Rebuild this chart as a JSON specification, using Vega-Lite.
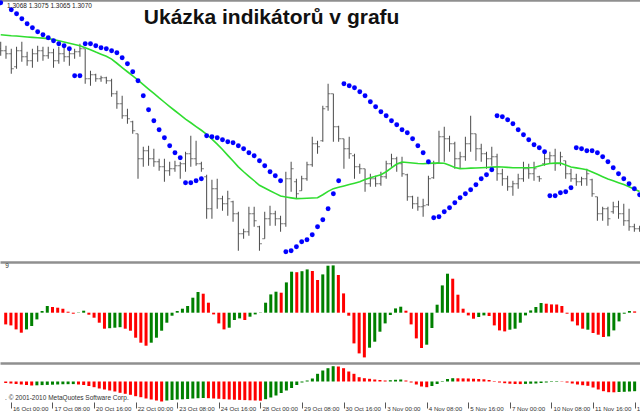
{
"$schema": "https://vega.github.io/schema/vega-lite/v6.json",
"padding": 0,
"spacing": 0,
"bounds": "flush",
"background": "white",
"config": {"view": {"stroke": null}, "font": "Liberation Sans"},
"datasets": {"bars": [
{"k":-1,"o":1.335,"h":1.3385,"l":1.3315,"c":1.334,"sar":1.358,"ma":1.342,"osma":-0.00117,"osmaDir":"down","hist":-0.00015,"histDir":"down"},
{"k":0,"o":1.334,"h":1.3365,"l":1.33,"c":1.3325,"sar":null,"ma":1.34175,"osma":-0.00127,"osmaDir":"down","hist":-0.0002,"histDir":"down"},
{"k":1,"o":1.3325,"h":1.335,"l":1.3225,"c":1.325,"sar":1.3545,"ma":1.3415,"osma":-0.00167,"osmaDir":"down","hist":-0.00025,"histDir":"down"},
{"k":2,"o":1.326,"h":1.336,"l":1.325,"c":1.334,"sar":1.3525,"ma":1.34135,"osma":-0.002,"osmaDir":"down","hist":-0.0003,"histDir":"down"},
{"k":3,"o":1.334,"h":1.3385,"l":1.3285,"c":1.331,"sar":1.35,"ma":1.3411,"osma":-0.00167,"osmaDir":"up","hist":-0.00035,"histDir":"down"},
{"k":4,"o":1.331,"h":1.3335,"l":1.3265,"c":1.329,"sar":1.3475,"ma":1.3409,"osma":-0.00133,"osmaDir":"up","hist":-0.0004,"histDir":"down"},
{"k":5,"o":1.329,"h":1.335,"l":1.3255,"c":1.3325,"sar":1.3455,"ma":1.3407,"osma":-0.00067,"osmaDir":"up","hist":-0.00038,"histDir":"up"},
{"k":6,"o":1.3325,"h":1.3365,"l":1.3285,"c":1.334,"sar":1.3435,"ma":1.3405,"osma":0.00017,"osmaDir":"up","hist":-0.00036,"histDir":"up"},
{"k":7,"o":1.334,"h":1.336,"l":1.329,"c":1.3315,"sar":1.342,"ma":1.3403,"osma":0.00067,"osmaDir":"up","hist":-0.00034,"histDir":"up"},
{"k":8,"o":1.3315,"h":1.336,"l":1.33,"c":1.333,"sar":1.3405,"ma":1.34005,"osma":0.00057,"osmaDir":"down","hist":-0.00032,"histDir":"up"},
{"k":9,"o":1.333,"h":1.335,"l":1.3255,"c":1.329,"sar":1.339,"ma":1.3396,"osma":0.0005,"osmaDir":"down","hist":-0.0003,"histDir":"up"},
{"k":10,"o":1.329,"h":1.336,"l":1.3275,"c":1.3325,"sar":1.3375,"ma":1.339,"osma":0.0004,"osmaDir":"down","hist":-0.00028,"histDir":"up"},
{"k":11,"o":1.3325,"h":1.3365,"l":1.3285,"c":1.331,"sar":1.3365,"ma":1.33835,"osma":0.0001,"osmaDir":"down","hist":-0.00027,"histDir":"up"},
{"k":12,"o":1.331,"h":1.335,"l":1.3265,"c":1.3325,"sar":1.335,"ma":1.33775,"osma":-0.0001,"osmaDir":"down","hist":-0.00026,"histDir":"up"},
{"k":13,"o":1.3325,"h":1.335,"l":1.33,"c":1.3335,"sar":1.3215,"ma":1.33715,"osma":-0.00003,"osmaDir":"up","hist":-0.0003,"histDir":"down"},
{"k":14,"o":1.3335,"h":1.3375,"l":1.331,"c":1.335,"sar":1.3215,"ma":1.3365,"osma":0.0002,"osmaDir":"up","hist":-0.00035,"histDir":"down"},
{"k":15,"o":1.335,"h":1.335,"l":1.3175,"c":1.32,"sar":1.3375,"ma":1.3355,"osma":-0.0002,"osmaDir":"down","hist":-0.00045,"histDir":"down"},
{"k":16,"o":1.32,"h":1.324,"l":1.3165,"c":1.322,"sar":1.3375,"ma":1.3345,"osma":-0.0005,"osmaDir":"down","hist":-0.00057,"histDir":"down"},
{"k":17,"o":1.322,"h":1.3225,"l":1.3185,"c":1.32,"sar":1.3365,"ma":1.33335,"osma":-0.001,"osmaDir":"down","hist":-0.0007,"histDir":"down"},
{"k":18,"o":1.32,"h":1.3215,"l":1.3185,"c":1.3205,"sar":1.3355,"ma":1.3323,"osma":-0.0016,"osmaDir":"down","hist":-0.0008,"histDir":"down"},
{"k":19,"o":1.3205,"h":1.321,"l":1.3175,"c":1.319,"sar":1.335,"ma":1.33125,"osma":-0.00155,"osmaDir":"up","hist":-0.0009,"histDir":"down"},
{"k":20,"o":1.319,"h":1.32,"l":1.311,"c":1.3125,"sar":1.334,"ma":1.32985,"osma":-0.0015,"osmaDir":"up","hist":-0.001,"histDir":"down"},
{"k":21,"o":1.3125,"h":1.314,"l":1.305,"c":1.3075,"sar":1.333,"ma":1.32775,"osma":-0.00145,"osmaDir":"up","hist":-0.00113,"histDir":"down"},
{"k":22,"o":1.3075,"h":1.3115,"l":1.3,"c":1.3015,"sar":1.3305,"ma":1.3256,"osma":-0.0016,"osmaDir":"down","hist":-0.00123,"histDir":"down"},
{"k":23,"o":1.3015,"h":1.305,"l":1.2975,"c":1.3,"sar":1.3275,"ma":1.3235,"osma":-0.0018,"osmaDir":"down","hist":-0.00133,"histDir":"down"},
{"k":24,"o":1.2985,"h":1.299,"l":1.2925,"c":1.294,"sar":1.3235,"ma":1.3214,"osma":-0.0025,"osmaDir":"down","hist":-0.00147,"histDir":"down"},
{"k":25,"o":1.2925,"h":1.2925,"l":1.27,"c":1.28,"sar":1.319,"ma":1.3193,"osma":-0.003,"osmaDir":"down","hist":-0.00157,"histDir":"down"},
{"k":26,"o":1.28,"h":1.286,"l":1.276,"c":1.284,"sar":1.3115,"ma":1.3171,"osma":-0.0033,"osmaDir":"down","hist":-0.0017,"histDir":"down"},
{"k":27,"o":1.284,"h":1.2865,"l":1.2765,"c":1.28,"sar":1.3045,"ma":1.31485,"osma":-0.003,"osmaDir":"up","hist":-0.0018,"histDir":"down"},
{"k":28,"o":1.28,"h":1.285,"l":1.276,"c":1.2785,"sar":1.299,"ma":1.31265,"osma":-0.0025,"osmaDir":"up","hist":-0.0019,"histDir":"down"},
{"k":29,"o":1.2785,"h":1.28,"l":1.274,"c":1.276,"sar":1.2945,"ma":1.3104,"osma":-0.0018,"osmaDir":"up","hist":-0.002,"histDir":"down"},
{"k":30,"o":1.276,"h":1.28,"l":1.2685,"c":1.274,"sar":1.2905,"ma":1.30825,"osma":-0.001,"osmaDir":"up","hist":-0.0019,"histDir":"up"},
{"k":31,"o":1.274,"h":1.2785,"l":1.2715,"c":1.275,"sar":1.2865,"ma":1.3061,"osma":-0.0003,"osmaDir":"up","hist":-0.00185,"histDir":"up"},
{"k":32,"o":1.275,"h":1.279,"l":1.2735,"c":1.2765,"sar":1.283,"ma":1.304,"osma":0.00017,"osmaDir":"up","hist":-0.0018,"histDir":"up"},
{"k":33,"o":1.2765,"h":1.2785,"l":1.27,"c":1.2775,"sar":1.2805,"ma":1.3019,"osma":0.0004,"osmaDir":"up","hist":-0.00178,"histDir":"up"},
{"k":34,"o":1.2775,"h":1.2835,"l":1.2735,"c":1.2825,"sar":1.268,"ma":1.2998,"osma":0.00067,"osmaDir":"up","hist":-0.00175,"histDir":"up"},
{"k":35,"o":1.2825,"h":1.2915,"l":1.276,"c":1.28,"sar":1.268,"ma":1.298,"osma":0.0015,"osmaDir":"up","hist":-0.0017,"histDir":"up"},
{"k":36,"o":1.28,"h":1.289,"l":1.2765,"c":1.2775,"sar":1.269,"ma":1.2961,"osma":0.00207,"osmaDir":"up","hist":-0.00167,"histDir":"up"},
{"k":37,"o":1.2775,"h":1.2785,"l":1.2735,"c":1.275,"sar":1.27,"ma":1.29425,"osma":0.0019,"osmaDir":"down","hist":-0.00165,"histDir":"up"},
{"k":38,"o":1.271,"h":1.272,"l":1.25,"c":1.255,"sar":1.2915,"ma":1.29225,"osma":0.001,"osmaDir":"down","hist":-0.00167,"histDir":"down"},
{"k":39,"o":1.255,"h":1.2695,"l":1.25,"c":1.265,"sar":1.291,"ma":1.2898,"osma":-0.00017,"osmaDir":"down","hist":-0.0017,"histDir":"down"},
{"k":40,"o":1.265,"h":1.27,"l":1.255,"c":1.26,"sar":1.2905,"ma":1.2873,"osma":-0.00107,"osmaDir":"down","hist":-0.00173,"histDir":"down"},
{"k":41,"o":1.26,"h":1.2615,"l":1.254,"c":1.2575,"sar":1.2895,"ma":1.28465,"osma":-0.00167,"osmaDir":"down","hist":-0.00177,"histDir":"down"},
{"k":42,"o":1.2575,"h":1.264,"l":1.2515,"c":1.26,"sar":1.2885,"ma":1.2817,"osma":-0.0015,"osmaDir":"up","hist":-0.0018,"histDir":"down"},
{"k":43,"o":1.2585,"h":1.259,"l":1.2485,"c":1.2525,"sar":1.288,"ma":1.27885,"osma":-0.00073,"osmaDir":"up","hist":-0.00182,"histDir":"down"},
{"k":44,"o":1.2525,"h":1.2535,"l":1.234,"c":1.2425,"sar":1.2865,"ma":1.27595,"osma":-0.00057,"osmaDir":"up","hist":-0.00184,"histDir":"down"},
{"k":45,"o":1.2425,"h":1.245,"l":1.24,"c":1.2435,"sar":1.285,"ma":1.2735,"osma":-0.00073,"osmaDir":"down","hist":-0.00186,"histDir":"down"},
{"k":46,"o":1.2435,"h":1.256,"l":1.2415,"c":1.2525,"sar":1.283,"ma":1.2712,"osma":-0.0004,"osmaDir":"up","hist":-0.00188,"histDir":"down"},
{"k":47,"o":1.2525,"h":1.256,"l":1.246,"c":1.249,"sar":1.2815,"ma":1.269,"osma":-0.00017,"osmaDir":"up","hist":-0.0019,"histDir":"down"},
{"k":48,"o":1.246,"h":1.2465,"l":1.234,"c":1.2375,"sar":1.279,"ma":1.26675,"osma":0.00003,"osmaDir":"up","hist":-0.00192,"histDir":"down"},
{"k":49,"o":1.24,"h":1.2535,"l":1.24,"c":1.25,"sar":1.2765,"ma":1.26535,"osma":0.001,"osmaDir":"up","hist":-0.00177,"histDir":"up"},
{"k":50,"o":1.25,"h":1.2565,"l":1.2465,"c":1.2525,"sar":1.2735,"ma":1.264,"osma":0.00183,"osmaDir":"up","hist":-0.0016,"histDir":"up"},
{"k":51,"o":1.2525,"h":1.254,"l":1.2465,"c":1.25,"sar":1.2715,"ma":1.2627,"osma":0.0021,"osmaDir":"up","hist":-0.0014,"histDir":"up"},
{"k":52,"o":1.25,"h":1.2515,"l":1.2435,"c":1.2475,"sar":1.269,"ma":1.2614,"osma":0.002,"osmaDir":"down","hist":-0.00115,"histDir":"up"},
{"k":53,"o":1.2475,"h":1.2735,"l":1.246,"c":1.27,"sar":1.2335,"ma":1.2609,"osma":0.00303,"osmaDir":"up","hist":-0.0009,"histDir":"up"},
{"k":54,"o":1.27,"h":1.2785,"l":1.2635,"c":1.275,"sar":1.234,"ma":1.26045,"osma":0.0041,"osmaDir":"up","hist":-0.00065,"histDir":"up"},
{"k":55,"o":1.2685,"h":1.27,"l":1.26,"c":1.2625,"sar":1.236,"ma":1.26005,"osma":0.00405,"osmaDir":"down","hist":-0.00035,"histDir":"up"},
{"k":56,"o":1.264,"h":1.2715,"l":1.264,"c":1.27,"sar":1.2385,"ma":1.2601,"osma":0.00415,"osmaDir":"up","hist":-0.0001,"histDir":"up"},
{"k":57,"o":1.27,"h":1.2785,"l":1.269,"c":1.277,"sar":1.2395,"ma":1.26025,"osma":0.00433,"osmaDir":"up","hist":0.0001,"histDir":"up"},
{"k":58,"o":1.277,"h":1.291,"l":1.276,"c":1.2875,"sar":1.242,"ma":1.26035,"osma":0.00417,"osmaDir":"down","hist":0.0003,"histDir":"up"},
{"k":59,"o":1.2875,"h":1.289,"l":1.2825,"c":1.286,"sar":1.246,"ma":1.2605,"osma":0.00327,"osmaDir":"down","hist":0.00077,"histDir":"up"},
{"k":60,"o":1.289,"h":1.3065,"l":1.2885,"c":1.305,"sar":1.2495,"ma":1.262,"osma":0.00383,"osmaDir":"up","hist":0.0011,"histDir":"up"},
{"k":61,"o":1.306,"h":1.3175,"l":1.304,"c":1.3125,"sar":1.255,"ma":1.2637,"osma":0.0047,"osmaDir":"up","hist":0.00133,"histDir":"up"},
{"k":62,"o":1.3125,"h":1.3125,"l":1.2885,"c":1.296,"sar":1.2625,"ma":1.26505,"osma":0.00473,"osmaDir":"up","hist":0.00153,"histDir":"up"},
{"k":63,"o":1.296,"h":1.2965,"l":1.2885,"c":1.29,"sar":1.269,"ma":1.26575,"osma":0.00377,"osmaDir":"down","hist":0.0015,"histDir":"down"},
{"k":64,"o":1.29,"h":1.29,"l":1.275,"c":1.285,"sar":1.3175,"ma":1.2664,"osma":0.00193,"osmaDir":"down","hist":0.00133,"histDir":"down"},
{"k":65,"o":1.285,"h":1.291,"l":1.28,"c":1.2825,"sar":1.3165,"ma":1.2671,"osma":-0.0003,"osmaDir":"down","hist":0.001,"histDir":"down"},
{"k":66,"o":1.2815,"h":1.2825,"l":1.27,"c":1.276,"sar":1.3155,"ma":1.2678,"osma":-0.00307,"osmaDir":"down","hist":0.00077,"histDir":"down"},
{"k":67,"o":1.276,"h":1.2775,"l":1.2725,"c":1.275,"sar":1.3135,"ma":1.2685,"osma":-0.00407,"osmaDir":"down","hist":0.00043,"histDir":"down"},
{"k":68,"o":1.275,"h":1.275,"l":1.2635,"c":1.2675,"sar":1.3115,"ma":1.2696,"osma":-0.00447,"osmaDir":"down","hist":0.00033,"histDir":"down"},
{"k":69,"o":1.2675,"h":1.2725,"l":1.266,"c":1.27,"sar":1.3085,"ma":1.27055,"osma":-0.0035,"osmaDir":"up","hist":0.00027,"histDir":"down"},
{"k":70,"o":1.27,"h":1.2715,"l":1.266,"c":1.2675,"sar":1.306,"ma":1.27125,"osma":-0.0029,"osmaDir":"up","hist":0.0002,"histDir":"down"},
{"k":71,"o":1.2675,"h":1.2735,"l":1.2665,"c":1.271,"sar":1.3035,"ma":1.272,"osma":-0.0019,"osmaDir":"up","hist":0.00015,"histDir":"down"},
{"k":72,"o":1.271,"h":1.279,"l":1.27,"c":1.2775,"sar":1.3015,"ma":1.2735,"osma":-0.00107,"osmaDir":"up","hist":0.0001,"histDir":"down"},
{"k":73,"o":1.2775,"h":1.2825,"l":1.276,"c":1.28,"sar":1.299,"ma":1.27545,"osma":-0.00023,"osmaDir":"up","hist":0.00013,"histDir":"up"},
{"k":74,"o":1.28,"h":1.281,"l":1.2735,"c":1.2775,"sar":1.297,"ma":1.27735,"osma":0.00043,"osmaDir":"up","hist":0.00017,"histDir":"up"},
{"k":75,"o":1.2775,"h":1.281,"l":1.271,"c":1.2725,"sar":1.2945,"ma":1.2784,"osma":0.0006,"osmaDir":"up","hist":0.0002,"histDir":"up"},
{"k":76,"o":1.272,"h":1.2725,"l":1.259,"c":1.261,"sar":1.293,"ma":1.27815,"osma":0.0002,"osmaDir":"down","hist":0.0001,"histDir":"down"},
{"k":77,"o":1.261,"h":1.2615,"l":1.255,"c":1.2575,"sar":1.29,"ma":1.27785,"osma":-0.00117,"osmaDir":"down","hist":-0.0001,"histDir":"down"},
{"k":78,"o":1.2575,"h":1.261,"l":1.254,"c":1.256,"sar":1.2865,"ma":1.2776,"osma":-0.00257,"osmaDir":"down","hist":-0.0003,"histDir":"down"},
{"k":79,"o":1.256,"h":1.26,"l":1.251,"c":1.2565,"sar":1.283,"ma":1.2775,"osma":-0.00353,"osmaDir":"down","hist":-0.0005,"histDir":"down"},
{"k":80,"o":1.257,"h":1.2715,"l":1.2565,"c":1.27,"sar":1.2785,"ma":1.2777,"osma":-0.0032,"osmaDir":"up","hist":-0.00057,"histDir":"down"},
{"k":81,"o":1.2705,"h":1.279,"l":1.27,"c":1.2775,"sar":1.2505,"ma":1.2778,"osma":-0.00153,"osmaDir":"up","hist":-0.00045,"histDir":"up"},
{"k":82,"o":1.278,"h":1.294,"l":1.2775,"c":1.291,"sar":1.251,"ma":1.2779,"osma":0.0008,"osmaDir":"up","hist":-0.00025,"histDir":"up"},
{"k":83,"o":1.291,"h":1.296,"l":1.2785,"c":1.29,"sar":1.2535,"ma":1.27775,"osma":0.00273,"osmaDir":"up","hist":0.00005,"histDir":"up"},
{"k":84,"o":1.29,"h":1.2915,"l":1.2835,"c":1.2875,"sar":1.2555,"ma":1.2767,"osma":0.0039,"osmaDir":"up","hist":0.00025,"histDir":"up"},
{"k":85,"o":1.2875,"h":1.2885,"l":1.275,"c":1.28,"sar":1.258,"ma":1.27565,"osma":0.0034,"osmaDir":"down","hist":0.00033,"histDir":"up"},
{"k":86,"o":1.28,"h":1.2835,"l":1.275,"c":1.281,"sar":1.2605,"ma":1.27505,"osma":0.0018,"osmaDir":"down","hist":0.00032,"histDir":"down"},
{"k":87,"o":1.281,"h":1.291,"l":1.279,"c":1.2875,"sar":1.2625,"ma":1.27515,"osma":0.0004,"osmaDir":"down","hist":0.00031,"histDir":"down"},
{"k":88,"o":1.2875,"h":1.3015,"l":1.2835,"c":1.2925,"sar":1.2645,"ma":1.2753,"osma":-0.00027,"osmaDir":"down","hist":0.0003,"histDir":"down"},
{"k":89,"o":1.2925,"h":1.2925,"l":1.279,"c":1.285,"sar":1.267,"ma":1.2754,"osma":-0.0006,"osmaDir":"down","hist":0.00028,"histDir":"down"},
{"k":90,"o":1.285,"h":1.2875,"l":1.2785,"c":1.2825,"sar":1.27,"ma":1.2755,"osma":-0.00043,"osmaDir":"up","hist":0.00025,"histDir":"down"},
{"k":91,"o":1.2825,"h":1.2835,"l":1.275,"c":1.28,"sar":1.272,"ma":1.27565,"osma":-0.00027,"osmaDir":"up","hist":0.00022,"histDir":"down"},
{"k":92,"o":1.28,"h":1.286,"l":1.2765,"c":1.281,"sar":1.2745,"ma":1.2758,"osma":-0.00033,"osmaDir":"down","hist":0.00015,"histDir":"down"},
{"k":93,"o":1.281,"h":1.2825,"l":1.269,"c":1.2725,"sar":1.3015,"ma":1.27595,"osma":-0.00127,"osmaDir":"down","hist":0.00005,"histDir":"down"},
{"k":94,"o":1.2725,"h":1.275,"l":1.2665,"c":1.27,"sar":1.301,"ma":1.2759,"osma":-0.00177,"osmaDir":"down","hist":-0.0001,"histDir":"down"},
{"k":95,"o":1.27,"h":1.2715,"l":1.264,"c":1.266,"sar":1.2995,"ma":1.2757,"osma":-0.00187,"osmaDir":"down","hist":-0.00017,"histDir":"down"},
{"k":96,"o":1.266,"h":1.269,"l":1.2615,"c":1.2675,"sar":1.2975,"ma":1.2755,"osma":-0.0017,"osmaDir":"up","hist":-0.00022,"histDir":"down"},
{"k":97,"o":1.2675,"h":1.2725,"l":1.265,"c":1.27,"sar":1.2945,"ma":1.2755,"osma":-0.0016,"osmaDir":"up","hist":-0.00025,"histDir":"down"},
{"k":98,"o":1.27,"h":1.2785,"l":1.2685,"c":1.275,"sar":1.292,"ma":1.2755,"osma":-0.001,"osmaDir":"up","hist":-0.00026,"histDir":"down"},
{"k":99,"o":1.275,"h":1.2775,"l":1.27,"c":1.2725,"sar":1.2895,"ma":1.2755,"osma":-0.00027,"osmaDir":"up","hist":-0.00024,"histDir":"up"},
{"k":100,"o":1.2725,"h":1.2785,"l":1.269,"c":1.275,"sar":1.287,"ma":1.27565,"osma":0.00023,"osmaDir":"up","hist":-0.00022,"histDir":"up"},
{"k":101,"o":1.271,"h":1.2715,"l":1.2685,"c":1.27,"sar":1.2855,"ma":1.2764,"osma":0.00057,"osmaDir":"up","hist":-0.0002,"histDir":"up"},
{"k":102,"o":1.2775,"h":1.2825,"l":1.2765,"c":1.28,"sar":1.2835,"ma":1.27715,"osma":0.00097,"osmaDir":"up","hist":-0.00015,"histDir":"up"},
{"k":103,"o":1.28,"h":1.2835,"l":1.2775,"c":1.2815,"sar":1.2615,"ma":1.2776,"osma":0.0009,"osmaDir":"down","hist":-0.0001,"histDir":"up"},
{"k":104,"o":1.2815,"h":1.285,"l":1.274,"c":1.2775,"sar":1.2615,"ma":1.2778,"osma":0.00083,"osmaDir":"down","hist":-0.00005,"histDir":"up"},
{"k":105,"o":1.2775,"h":1.2835,"l":1.2765,"c":1.281,"sar":1.263,"ma":1.2779,"osma":0.00082,"osmaDir":"down","hist":0.00005,"histDir":"up"},
{"k":106,"o":1.279,"h":1.279,"l":1.27,"c":1.2725,"sar":1.2635,"ma":1.27685,"osma":0.00067,"osmaDir":"down","hist":0.00003,"histDir":"down"},
{"k":107,"o":1.2725,"h":1.275,"l":1.2685,"c":1.27,"sar":1.2655,"ma":1.2759,"osma":-0.0001,"osmaDir":"down","hist":-0.0001,"histDir":"down"},
{"k":108,"o":1.27,"h":1.2725,"l":1.2665,"c":1.2685,"sar":1.2855,"ma":1.27545,"osma":-0.00087,"osmaDir":"down","hist":-0.0002,"histDir":"down"},
{"k":109,"o":1.2685,"h":1.271,"l":1.2665,"c":1.27,"sar":1.285,"ma":1.275,"osma":-0.00127,"osmaDir":"down","hist":-0.0003,"histDir":"down"},
{"k":110,"o":1.27,"h":1.275,"l":1.2665,"c":1.2725,"sar":1.284,"ma":1.2745,"osma":-0.0016,"osmaDir":"down","hist":-0.00037,"histDir":"down"},
{"k":111,"o":1.2695,"h":1.27,"l":1.261,"c":1.2625,"sar":1.284,"ma":1.2734,"osma":-0.0017,"osmaDir":"up","hist":-0.00043,"histDir":"down"},
{"k":112,"o":1.261,"h":1.261,"l":1.249,"c":1.2525,"sar":1.283,"ma":1.2722,"osma":-0.00203,"osmaDir":"down","hist":-0.0006,"histDir":"down"},
{"k":113,"o":1.2525,"h":1.256,"l":1.249,"c":1.255,"sar":1.281,"ma":1.271,"osma":-0.0022,"osmaDir":"down","hist":-0.0008,"histDir":"down"},
{"k":114,"o":1.255,"h":1.256,"l":1.2465,"c":1.25,"sar":1.2785,"ma":1.26985,"osma":-0.00243,"osmaDir":"down","hist":-0.00097,"histDir":"down"},
{"k":115,"o":1.2535,"h":1.2585,"l":1.2525,"c":1.256,"sar":1.2755,"ma":1.26895,"osma":-0.00237,"osmaDir":"up","hist":-0.00107,"histDir":"down"},
{"k":116,"o":1.256,"h":1.259,"l":1.25,"c":1.2525,"sar":1.2725,"ma":1.268,"osma":-0.00177,"osmaDir":"up","hist":-0.00108,"histDir":"down"},
{"k":117,"o":1.2525,"h":1.2575,"l":1.2465,"c":1.249,"sar":1.27,"ma":1.2671,"osma":-0.00087,"osmaDir":"up","hist":-0.00105,"histDir":"up"},
{"k":118,"o":1.249,"h":1.255,"l":1.244,"c":1.246,"sar":1.2675,"ma":1.266,"osma":-0.0001,"osmaDir":"up","hist":-0.00103,"histDir":"up"},
{"k":119,"o":1.246,"h":1.2475,"l":1.2435,"c":1.245,"sar":1.265,"ma":1.26475,"osma":0.00017,"osmaDir":"up","hist":-0.001,"histDir":"up"},
{"k":120,"o":1.245,"h":1.2465,"l":1.2435,"c":1.2455,"sar":1.262,"ma":1.2636,"osma":0.00013,"osmaDir":"down","hist":-0.00097,"histDir":"up"}
]},
"vconcat": [
{
 "width": 640, "height": 262,
 "resolve": {"axis": {"x": "independent"}},
 "layer": [
  {"data": {"name": "bars"}, "mark": {"type": "rule", "color": "#4a4a4a", "strokeWidth": 1, "clip": true},
   "encoding": {"x": {"field": "k", "type": "quantitative", "scale": {"domain": [-1.136, 120.07], "nice": false, "zero": false},
       "axis": {"orient": "top", "labels": false, "ticks": false, "grid": false, "title": null, "domain": true, "domainColor": "#8f8f8f", "domainWidth": 2.5}},
     "y": {"field": "h", "type": "quantitative", "scale": {"domain": [1.228375, 1.359375], "nice": false, "zero": false}, "axis": null}, "y2": {"field": "l"}}},
  {"data": {"name": "bars"}, "mark": {"type": "tick", "orient": "horizontal", "color": "#4a4a4a", "size": 2.5, "thickness": 1, "xOffset": -1.25, "clip": true},
   "encoding": {"x": {"field": "k", "type": "quantitative", "scale": {"domain": [-1.136, 120.07], "nice": false, "zero": false}, "axis": null},
     "y": {"field": "o", "type": "quantitative", "scale": {"domain": [1.228375, 1.359375], "nice": false, "zero": false}, "axis": null}}},
  {"data": {"name": "bars"}, "mark": {"type": "tick", "orient": "horizontal", "color": "#4a4a4a", "size": 2.5, "thickness": 1, "xOffset": 1.25, "clip": true},
   "encoding": {"x": {"field": "k", "type": "quantitative", "scale": {"domain": [-1.136, 120.07], "nice": false, "zero": false}, "axis": null},
     "y": {"field": "c", "type": "quantitative", "scale": {"domain": [1.228375, 1.359375], "nice": false, "zero": false}, "axis": null}}},
  {"data": {"name": "bars"}, "mark": {"type": "line", "color": "#30dd30", "strokeWidth": 1.6, "clip": true},
   "encoding": {"x": {"field": "k", "type": "quantitative", "scale": {"domain": [-1.136, 120.07], "nice": false, "zero": false}, "axis": null},
     "y": {"field": "ma", "type": "quantitative", "scale": {"domain": [1.228375, 1.359375], "nice": false, "zero": false}, "axis": null}}},
  {"data": {"name": "bars"}, "mark": {"type": "circle", "color": "#0000ff", "size": 24, "opacity": 1, "clip": true},
   "encoding": {"x": {"field": "k", "type": "quantitative", "scale": {"domain": [-1.136, 120.07], "nice": false, "zero": false}, "axis": null},
     "y": {"field": "sar", "type": "quantitative", "scale": {"domain": [1.228375, 1.359375], "nice": false, "zero": false}, "axis": null}}},
  {"data": {"values": [{"t": "Ukázka indikátorů v grafu"}]},
   "mark": {"type": "text", "font": "Liberation Sans", "fontWeight": "bold", "fontSize": 21, "align": "center", "baseline": "alphabetic", "color": "#111111"},
   "encoding": {"x": {"datum": 50.3, "type": "quantitative", "scale": {"domain": [-1.136, 120.07], "nice": false, "zero": false}, "axis": null},
     "y": {"datum": 1.3475, "type": "quantitative", "scale": {"domain": [1.228375, 1.359375], "nice": false, "zero": false}, "axis": null}, "text": {"field": "t"}}},
  {"data": {"values": [{"t": "1.3068 1.3075 1.3065 1.3070"}]},
   "mark": {"type": "text", "font": "Liberation Sans", "fontSize": 6.5, "align": "left", "baseline": "alphabetic", "color": "#222222"},
   "encoding": {"x": {"datum": 0.19, "type": "quantitative", "scale": {"domain": [-1.136, 120.07], "nice": false, "zero": false}, "axis": null},
     "y": {"datum": 1.3555, "type": "quantitative", "scale": {"domain": [1.228375, 1.359375], "nice": false, "zero": false}, "axis": null}, "text": {"field": "t"}}}
 ]
},
{
 "width": 640, "height": 101,
 "resolve": {"axis": {"x": "independent"}},
 "layer": [
  {"data": {"name": "bars"}, "mark": {"type": "bar", "width": 3, "clip": true},
   "encoding": {"x": {"field": "k", "type": "quantitative", "scale": {"domain": [-1.136, 120.07], "nice": false, "zero": false},
       "axis": {"orient": "top", "labels": false, "ticks": false, "grid": false, "title": null, "domain": true, "domainColor": "#8f8f8f", "domainWidth": 2.5}},
     "y": {"field": "osma", "type": "quantitative", "scale": {"domain": [-0.00503, 0.00507], "nice": false, "zero": false}, "axis": null},
     "y2": {"datum": 0},
     "color": {"field": "osmaDir", "type": "nominal", "scale": {"domain": ["down", "up"], "range": ["#ff0000", "#008000"]}, "legend": null}}},
  {"data": {"values": [{"t": "9"}]},
   "mark": {"type": "text", "font": "Liberation Sans", "fontSize": 6.5, "align": "left", "baseline": "middle", "color": "#333333"},
   "encoding": {"x": {"datum": -1.1, "type": "quantitative", "scale": {"domain": [-1.136, 120.07], "nice": false, "zero": false}, "axis": null},
     "y": {"datum": 0.00465, "type": "quantitative", "scale": {"domain": [-0.00503, 0.00507], "nice": false, "zero": false}, "axis": null}, "text": {"field": "t"}}}
 ]
},
{
 "width": 640, "height": 39,
 "resolve": {"axis": {"x": "independent"}},
 "layer": [
  {"data": {"name": "bars"}, "mark": {"type": "bar", "width": 3, "clip": true},
   "encoding": {"x": {"field": "k", "type": "quantitative", "scale": {"domain": [-1.136, 120.07], "nice": false, "zero": false},
       "axis": {"orient": "top", "labels": false, "ticks": false, "grid": false, "title": null, "domain": true, "domainColor": "#8f8f8f", "domainWidth": 2.5}},
     "y": {"field": "hist", "type": "quantitative", "scale": {"domain": [-0.00205, 0.00185], "nice": false, "zero": false}, "axis": null},
     "y2": {"datum": 0},
     "color": {"field": "histDir", "type": "nominal", "scale": {"domain": ["down", "up"], "range": ["#ff0000", "#008000"]}, "legend": null}}},
  {"data": {"values": [{"t": ". © 2001-2010 MetaQuotes Software Corp."}]},
   "mark": {"type": "text", "font": "Liberation Sans", "fontSize": 6.5, "align": "left", "baseline": "middle", "color": "#333333"},
   "encoding": {"x": {"datum": -1.13, "type": "quantitative", "scale": {"domain": [-1.136, 120.07], "nice": false, "zero": false},
       "axis": {"orient": "bottom", "values": [0, 8, 16, 24, 32, 40, 48, 56, 64, 72, 80, 88, 96, 104, 112, 120],
         "labelExpr": "['16 Oct 00:00','17 Oct 08:00','20 Oct 16:00','22 Oct 00:00','23 Oct 08:00','24 Oct 16:00','28 Oct 00:00','29 Oct 08:00','30 Oct 16:00','3 Nov 00:00','4 Nov 08:00','5 Nov 16:00','7 Nov 00:00','10 Nov 08:00','11 Nov 16:00','13 Nov 00:00'][round(datum.value/8)]",
         "domain": false, "grid": false, "title": null, "ticks": true, "tickSize": 6, "tickColor": "#555555", "tickWidth": 1,
         "labelAlign": "left", "labelBaseline": "middle", "labelPadding": 0, "labelOffset": 1.5,
         "labelFont": "Liberation Sans", "labelFontSize": 6.2, "labelColor": "#333333",
         "labelOverlap": false, "labelFlush": false, "labelBound": false}},
     "y": {"datum": -0.00168, "type": "quantitative", "scale": {"domain": [-0.00205, 0.00185], "nice": false, "zero": false}, "axis": null},
     "text": {"field": "t"}}}
 ]
}
]
}
